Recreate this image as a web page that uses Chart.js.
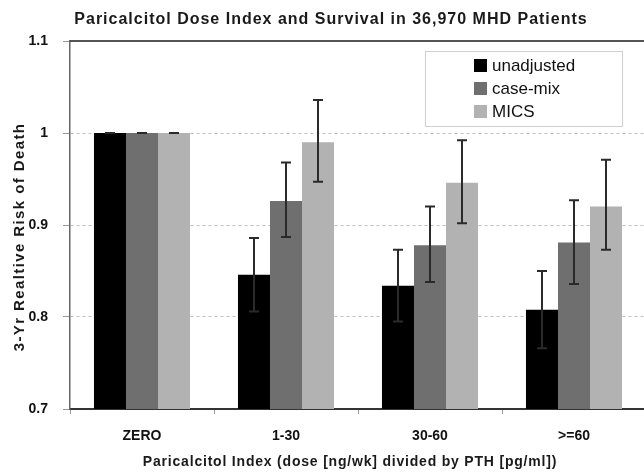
<!DOCTYPE html>
<html>
<head>
<meta charset="utf-8">
<script src="https://cdn.jsdelivr.net/npm/chart.js@4.4.1/dist/chart.umd.min.js"></script>
<style>
  html, body { margin: 0; padding: 0; background: #fff; overflow: hidden; }
  #wrap { width: 652px; height: 475px; }
</style>
</head>
<body>
<div id="wrap"><canvas id="chart" width="652" height="475"></canvas></div>
<script>
// Paricalcitol dose index vs 3-yr relative risk of death

const categories = ['ZERO', '1-30', '30-60', '>=60'];

const unadjusted     = [1, 0.846, 0.834, 0.808];
const unadjustedHigh = [1, 0.886, 0.873, 0.850];
const unadjustedLow  = [1, 0.806, 0.795, 0.766];

const caseMix     = [1, 0.926, 0.878, 0.881];
const caseMixHigh = [1, 0.968, 0.920, 0.927];
const caseMixLow  = [1, 0.887, 0.838, 0.836];

const mics     = [1, 0.990, 0.946, 0.920];
const micsHigh = [1, 1.036, 0.992, 0.971];
const micsLow  = [1, 0.947, 0.902, 0.873];

const yTicks = [0.7, 0.8, 0.9, 1, 1.1];

const titleText  = 'Paricalcitol Dose Index and Survival in 36,970 MHD Patients';
const xTitleText = 'Paricalcitol Index (dose [ng/wk] divided by PTH [pg/ml])';
const yTitleText = '3-Yr Realtive Risk of Death';

const FONT = '"Liberation Sans", Arial, sans-serif';

// error bars drawn on top of the bars, using the y scale
const errorBars = {
    id: 'errorBars',
    afterDatasetsDraw(chart) {
        const ctx = chart.ctx;
        const y = chart.scales.y;
        ctx.save();
        ctx.strokeStyle = '#2a2a2a';
        ctx.lineWidth = 2;
        chart.data.datasets.forEach((ds, i) => {
            const meta = chart.getDatasetMeta(i);
            meta.data.forEach((bar, j) => {
                const x = Math.round(bar.x);
                const top = y.getPixelForValue(ds.errHigh[j]);
                const bot = y.getPixelForValue(ds.errLow[j]);
                ctx.beginPath();
                ctx.moveTo(x, top); ctx.lineTo(x, bot);
                ctx.moveTo(x - 5, top); ctx.lineTo(x + 5, top);
                ctx.moveTo(x - 5, bot); ctx.lineTo(x + 5, bot);
                ctx.stroke();
            });
        });
        ctx.restore();
    }
};

// top border, boxed legend and the (letter-spaced) titles
const frameAndLegend = {
    id: 'frameAndLegend',
    afterDraw(chart) {
        const ctx = chart.ctx;
        const area = chart.chartArea;
        const y = chart.scales.y;
        ctx.save();
        ctx.strokeStyle = '#555';
        ctx.lineWidth = 2;
        const yt = y.getPixelForValue(1.1);
        ctx.beginPath();
        ctx.moveTo(area.left, yt); ctx.lineTo(area.right, yt);
        ctx.stroke();

        // legend box
        ctx.fillStyle = '#fff';
        ctx.fillRect(425.5, 51.5, 197, 75);
        ctx.strokeStyle = '#cfcfcf';
        ctx.lineWidth = 1;
        ctx.strokeRect(425.5, 51.5, 197, 75);
        ctx.font = '17px ' + FONT;
        ctx.textBaseline = 'middle';
        chart.data.datasets.forEach((ds, i) => {
            const cy = 65 + i * 23;
            ctx.fillStyle = ds.backgroundColor;
            ctx.fillRect(474, cy - 6, 13, 13);
            ctx.fillStyle = '#111';
            ctx.fillText(ds.label, 492, cy + 1);
        });

        // titles
        ctx.textAlign = 'center';
        ctx.fillStyle = '#1a1a1a';
        ctx.letterSpacing = '1px';
        ctx.font = 'bold 16px ' + FONT;
        ctx.fillText(titleText, 331, 20);
        ctx.letterSpacing = '0.8px';
        ctx.font = 'bold 14px ' + FONT;
        ctx.fillText(xTitleText, 350, 462);
        ctx.letterSpacing = '1.4px';
        ctx.font = 'bold 15px ' + FONT;
        ctx.translate(20, 237);
        ctx.rotate(-Math.PI / 2);
        ctx.fillText(yTitleText, 0, 0);
        ctx.restore();
    }
};

new Chart(document.getElementById('chart'), {
    type: 'bar',
    data: {
        labels: categories,
        datasets: [
            { label: 'unadjusted', data: unadjusted, errHigh: unadjustedHigh, errLow: unadjustedLow, backgroundColor: '#000000' },
            { label: 'case-mix', data: caseMix, errHigh: caseMixHigh, errLow: caseMixLow, backgroundColor: '#6f6f6f' },
            { label: 'MICS', data: mics, errHigh: micsHigh, errLow: micsLow, backgroundColor: '#b2b2b2' }
        ]
    },
    options: {
        responsive: false,
        animation: false,
        categoryPercentage: 0.667,
        barPercentage: 1.0,
        layout: { padding: { left: 0, right: 6, top: 41, bottom: 0 } },
        plugins: {
            legend: { display: false },
            tooltip: { enabled: false },
            title: { display: false }
        },
        scales: {
            x: {
                grid: { drawOnChartArea: false, drawTicks: true, tickLength: 5, color: '#999' },
                border: { color: '#333', width: 2 },
                ticks: { color: '#111', font: { family: FONT, size: 14, weight: 'bold' }, padding: 14 },
                afterFit(scale) { scale.height = 66; }
            },
            y: {
                min: 0.7,
                max: 1.1,
                afterBuildTicks(scale) { scale.ticks = yTicks.map(v => ({ value: v })); },
                grid: {
                    color: '#bdbdbd',
                    tickColor: '#999',
                    tickBorderDash: [],
                    tickLength: 7
                },
                border: { color: '#666', width: 1.5, dash: [3, 3] },
                ticks: {
                    color: '#111',
                    font: { family: FONT, size: 14, weight: 'bold' },
                    padding: 15,
                    callback: v => String(+Number(v).toFixed(1))
                },
                afterFit(scale) { scale.width = 70; }
            }
        }
    },
    plugins: [errorBars, frameAndLegend]
});
</script>
</body>
</html>
